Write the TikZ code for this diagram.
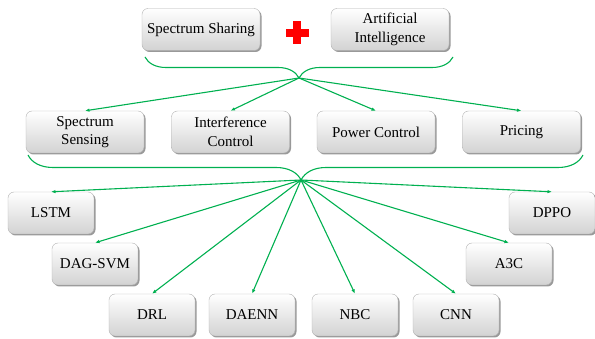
\documentclass[tikz,border=0pt]{standalone}
\usepackage{fontspec}
\setmainfont{Liberation Serif}
\newfontfamily\boxfont{Liberation Serif}
\usepackage{tikz}
\usepackage{xcolor}
\usetikzlibrary{arrows.meta,decorations.pathreplacing,shadows}
\definecolor{linkgreen}{RGB}{0,176,80}

\begin{document}
\begin{tikzpicture}[x=1pt,y=-1pt,>={Latex[length=4.5pt,width=3.5pt]},
  box/.style={draw=gray!60,rounded corners=6pt,top color=white,bottom color=gray!35,
    drop shadow={shadow xshift=1.5pt,shadow yshift=-1.5pt,fill=black!80,opacity=0.5},
    minimum width=118pt,minimum height=42pt,inner sep=2pt,align=center,
    font=\boxfont\fontsize{15}{18.5}\selectfont},
  small/.style={box,minimum width=86pt},
  link/.style={->,linkgreen,line width=1.1pt},
  bracket/.style={linkgreen,line width=1.1pt,decorate,
    decoration={brace,mirror,amplitude=#1}}]
  \useasboundingbox (0,0) rectangle (595,339);

  % top: the two fields joined
  \node[box] (share) at (201,29.5) {Spectrum Sharing};
  \node[box] (ai) at (390,29.5) {Artificial\\Intelligence};
  \fill[red] (285.5,29) rectangle (308.5,37);
  \fill[red] (293,21.5) rectangle (301,44.5);
  \draw[bracket=21pt] (145,57) -- (453,57);
  \coordinate (hubA) at (299,78);

  % middle: the four problems
  \node[box] (sense) at (85,132) {Spectrum\\Sensing};
  \node[box] (inter) at (230.5,132) {Interference\\Control};
  \node[box] (power) at (376,132) {Power Control};
  \node[box] (price) at (521.5,132) {Pricing};
  \foreach \t in {sense,inter,power,price}
    \draw[link] (hubA) -- (\t.north);
  \draw[bracket=25pt,decoration={aspect=0.492}] (28,155) -- (583,155);
  \coordinate (hubB) at (301,180);

  % bottom: the methods
  \node[small] (lstm) at (51,213) {LSTM};
  \node[small] (dag) at (95,264) {DAG-SVM};
  \node[small] (drl) at (152,315) {DRL};
  \node[small] (daenn) at (252,315) {DAENN};
  \node[small] (nbc) at (355,315) {NBC};
  \node[small] (cnn) at (456,315) {CNN};
  \node[small] (athree) at (509,264) {A3C};
  \node[small] (dppo) at (552,213) {DPPO};
  \foreach \t in {lstm,dag,drl,daenn,nbc,cnn,athree,dppo}
    \draw[link] (hubB) -- (\t.north);
\end{tikzpicture}
\end{document}
